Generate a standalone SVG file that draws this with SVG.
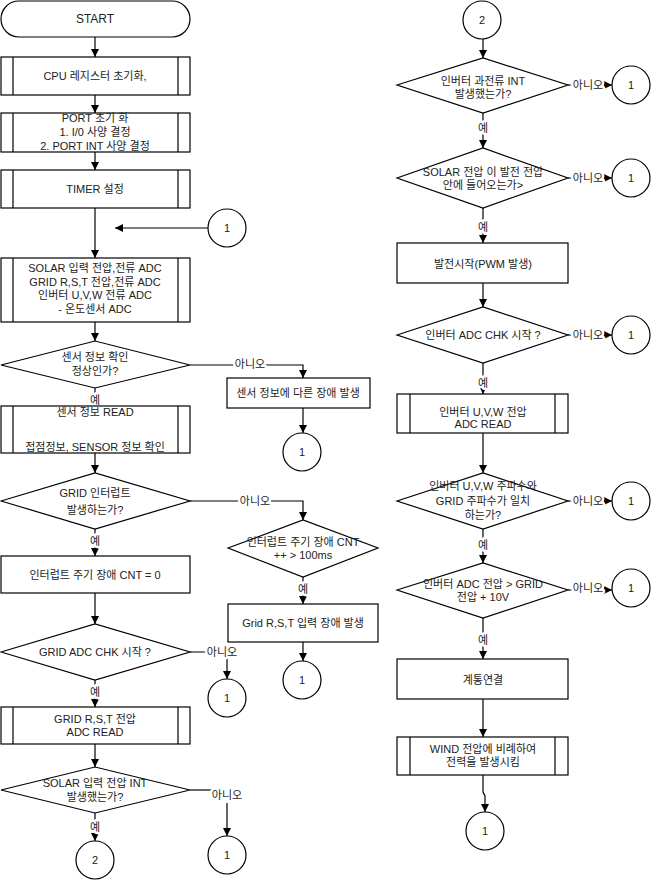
<svg xmlns="http://www.w3.org/2000/svg" width="655" height="881" viewBox="0 0 655 881">
<defs>
<marker id="ah" markerUnits="userSpaceOnUse" markerWidth="8" markerHeight="8" refX="8" refY="4" orient="auto"><path d="M0,0 L8,4 L0,8 z" fill="#000"/></marker>
<style>
.s{fill:#fff;stroke:#000;stroke-width:1.2}
.ln{fill:none;stroke:#000;stroke-width:1.2}
.c{fill:none;stroke:#000;stroke-width:1.2;marker-end:url(#ah)}
text{font-family:"Liberation Sans","Noto Sans CJK KR",sans-serif;font-size:11px;fill:#222;text-anchor:middle;dominant-baseline:central}
.lbl{paint-order:stroke;stroke:#fff;stroke-width:5px;stroke-linejoin:round}
</style>
</defs>
<rect width="655" height="881" fill="#fff"/>
<g id="connectors">
<path class="c" d="M95,37 V57"/>
<path class="c" d="M95,95 V113"/>
<path class="c" d="M95,152 V170"/>
<path class="c" d="M95,208 V258"/>
<path class="c" d="M208,228 H115"/>
<path class="c" d="M95,322 V341"/>
<path class="c" d="M95,388 V406"/>
<path class="c" d="M190,365 H303 V378"/>
<path class="c" d="M303,408 V433"/>
<path class="c" d="M95,453 V473"/>
<path class="c" d="M95,529 V556"/>
<path class="c" d="M190,501 H303 V520"/>
<path class="c" d="M303,577 V604"/>
<path class="c" d="M303,642 V661"/>
<path class="c" d="M95,593 V624"/>
<path class="c" d="M190,652 H227 V679"/>
<path class="c" d="M95,680 V707"/>
<path class="c" d="M95,744 V767"/>
<path class="ln" d="M190,790 H212"/>
<path class="c" d="M227,803 V836"/>
<path class="c" d="M95,813 V841"/>
<path class="c" d="M483,39 V58"/>
<path class="c" d="M568,85 H612"/>
<path class="c" d="M483,113 V148"/>
<path class="c" d="M568,178 H612"/>
<path class="c" d="M483,208 V243"/>
<path class="c" d="M483,283 V307"/>
<path class="c" d="M568,335 H612"/>
<path class="c" d="M483,363 V394"/>
<path class="c" d="M483,433 V473"/>
<path class="c" d="M568,501 H612"/>
<path class="c" d="M483,529 V563"/>
<path class="c" d="M568,590 H612"/>
<path class="c" d="M483,618 V659"/>
<path class="c" d="M483,699 V737"/>
<path class="c" d="M483,775 V792 L485,796 V812"/>
<text class="lbl" x="95" y="400">예</text>
<text class="lbl" x="250" y="364">아니오</text>
<text class="lbl" x="95" y="541">예</text>
<text class="lbl" x="255" y="501">아니오</text>
<text class="lbl" x="303" y="589">예</text>
<text class="lbl" x="222" y="652">아니오</text>
<text class="lbl" x="95" y="692">예</text>
<text class="lbl" x="227" y="795">아니오</text>
<text class="lbl" x="95" y="827">예</text>
<text class="lbl" x="588" y="85">아니오</text>
<text class="lbl" x="483" y="128">예</text>
<text class="lbl" x="588" y="178">아니오</text>
<text class="lbl" x="483" y="227">예</text>
<text class="lbl" x="588" y="335">아니오</text>
<text class="lbl" x="483" y="383">예</text>
<text class="lbl" x="588" y="501">아니오</text>
<text class="lbl" x="483" y="545">예</text>
<text class="lbl" x="588" y="588">아니오</text>
<text class="lbl" x="483" y="640">예</text>
</g>
<g id="start"><rect class="s" x="1" y="1" width="189" height="36" rx="18"/><text x="95" y="19" style="font-size:12px">START</text></g>
<g id="cpu"><rect class="s" x="1" y="57" width="189" height="38"/><path class="ln" d="M13,57 V95 M178,57 V95"/><text x="95" y="76">CPU 레지스터 초기화,</text></g>
<g id="port"><rect class="s" x="1" y="113" width="189" height="39"/><path class="ln" d="M13,113 V152 M178,113 V152"/><text x="95" y="118">PORT 초기 화</text><text x="95" y="132">1. I/0 사양 결정</text><text x="95" y="146">2. PORT INT 사양 결정</text></g>
<g id="timer"><rect class="s" x="1" y="170" width="189" height="38"/><path class="ln" d="M13,170 V208 M178,170 V208"/><text x="95" y="189">TIMER 설정</text></g>
<g id="c1a"><circle class="s" cx="227" cy="228" r="19"/><text x="227" y="228">1</text></g>
<g id="adc"><rect class="s" x="1" y="258" width="189" height="64"/><path class="ln" d="M13,258 V322 M178,258 V322"/><text x="95" y="268">SOLAR 입력 전압,전류 ADC</text><text x="95" y="282">GRID R,S,T 전압,전류 ADC</text><text x="95" y="295">인버터 U,V,W  전류 ADC</text><text x="95" y="309">- 온도센서 ADC</text></g>
<g id="d_sensor"><polygon class="s" points="1,365 95,341 190,365 95,388"/><text x="95" y="357">센서 정보 확인</text><text x="95" y="371">정상인가?</text></g>
<g id="sensor_fault"><rect class="s" x="227" y="378" width="143" height="30"/><text x="298" y="393">센서 정보에 다른 장애 발생</text></g>
<g id="c1b"><circle class="s" cx="302" cy="452" r="19"/><text x="302" y="452">1</text></g>
<g id="sensor_read"><rect class="s" x="1" y="406" width="189" height="47"/><path class="ln" d="M13,406 V453 M178,406 V453"/><text x="95" y="412">센서 정보 READ</text><text x="95" y="447">접점정보, SENSOR 정보 확인</text></g>
<g id="d_grid"><polygon class="s" points="1,501 95,473 190,501 95,529"/><text x="95" y="493">GRID 인터럽트</text><text x="95" y="510">발생하는가?</text></g>
<g id="d_cnt"><polygon class="s" points="228,548 303,520 378,548 303,577"/><text x="303" y="542">인터럽트 주기 장애 CNT</text><text x="303" y="555">++ &gt; 100ms</text></g>
<g id="grid_fault"><rect class="s" x="228" y="604" width="150" height="38"/><text x="303" y="623">Grid R,S,T 입력 장애 발생</text></g>
<g id="c1c"><circle class="s" cx="302" cy="680" r="19"/><text x="302" y="680">1</text></g>
<g id="cnt0"><rect class="s" x="1" y="556" width="189" height="37"/><text x="95" y="575">인터럽트 주기 장애 CNT = 0</text></g>
<g id="d_gridadc"><polygon class="s" points="1,652 95,624 190,652 95,680"/><text x="95" y="652">GRID ADC CHK 시작 ?</text></g>
<g id="c1d"><circle class="s" cx="227" cy="698" r="19"/><text x="227" y="698">1</text></g>
<g id="grid_read"><rect class="s" x="1" y="707" width="189" height="37"/><path class="ln" d="M13,707 V744 M178,707 V744"/><text x="95" y="719">GRID R,S,T 전압</text><text x="95" y="732">ADC READ</text></g>
<g id="d_solarint"><polygon class="s" points="1,790 95,767 190,790 95,813"/><text x="95" y="783">SOLAR 입력 전압 INT</text><text x="95" y="797">발생했는가?</text></g>
<g id="c1e"><circle class="s" cx="227" cy="855" r="19"/><text x="227" y="855">1</text></g>
<g id="c2a"><circle class="s" cx="95" cy="860" r="19"/><text x="95" y="860">2</text></g>
<g id="c2b"><circle class="s" cx="482" cy="20" r="19"/><text x="482" y="20">2</text></g>
<g id="d_over"><polygon class="s" points="397,85 483,58 568,85 483,113"/><text x="483" y="81">인버터 과전류 INT</text><text x="483" y="94">발생했는가?</text></g>
<g id="c1f"><circle class="s" cx="631" cy="85" r="19"/><text x="631" y="85">1</text></g>
<g id="d_solarv"><polygon class="s" points="397,178 483,148 568,178 483,208"/><text x="483" y="172">SOLAR 전압 이 발전 전압</text><text x="483" y="185">안에 들어오는가&gt;</text></g>
<g id="c1g"><circle class="s" cx="631" cy="178" r="19"/><text x="631" y="178">1</text></g>
<g id="pwm"><rect class="s" x="397" y="243" width="171" height="40"/><text x="483" y="264">발전시작(PWM 발생)</text></g>
<g id="d_invadc"><polygon class="s" points="397,335 483,307 568,335 483,363"/><text x="483" y="335">인버터 ADC CHK 시작 ?</text></g>
<g id="c1h"><circle class="s" cx="631" cy="335" r="19"/><text x="631" y="335">1</text></g>
<g id="inv_read"><rect class="s" x="397" y="394" width="171" height="39"/><path class="ln" d="M410,394 V433 M555,394 V433"/><text x="483" y="412">인버터 U,V,W  전압</text><text x="483" y="424">ADC READ</text></g>
<g id="d_freq"><polygon class="s" points="397,501 483,473 568,501 483,529"/><text x="483" y="486">인버터 U,V,W 주파수와</text><text x="483" y="501">GRID 주파수가 일치</text><text x="483" y="515">하는가?</text></g>
<g id="c1i"><circle class="s" cx="631" cy="501" r="19"/><text x="631" y="501">1</text></g>
<g id="d_volt"><polygon class="s" points="397,590 483,563 568,590 483,618"/><text x="483" y="584">인버터 ADC 전압 &gt; GRID</text><text x="483" y="597">전압 + 10V</text></g>
<g id="c1j"><circle class="s" cx="631" cy="588" r="19"/><text x="631" y="588">1</text></g>
<g id="connect"><rect class="s" x="397" y="659" width="171" height="40"/><text x="483" y="680">계통연결</text></g>
<g id="wind"><rect class="s" x="397" y="737" width="171" height="38"/><path class="ln" d="M410,737 V775 M555,737 V775"/><text x="483" y="749">WIND 전압에 비례하여</text><text x="483" y="762">전력을 발생시킴</text></g>
<g id="c1k"><circle class="s" cx="485" cy="831" r="19"/><text x="485" y="831">1</text></g>
</svg>
